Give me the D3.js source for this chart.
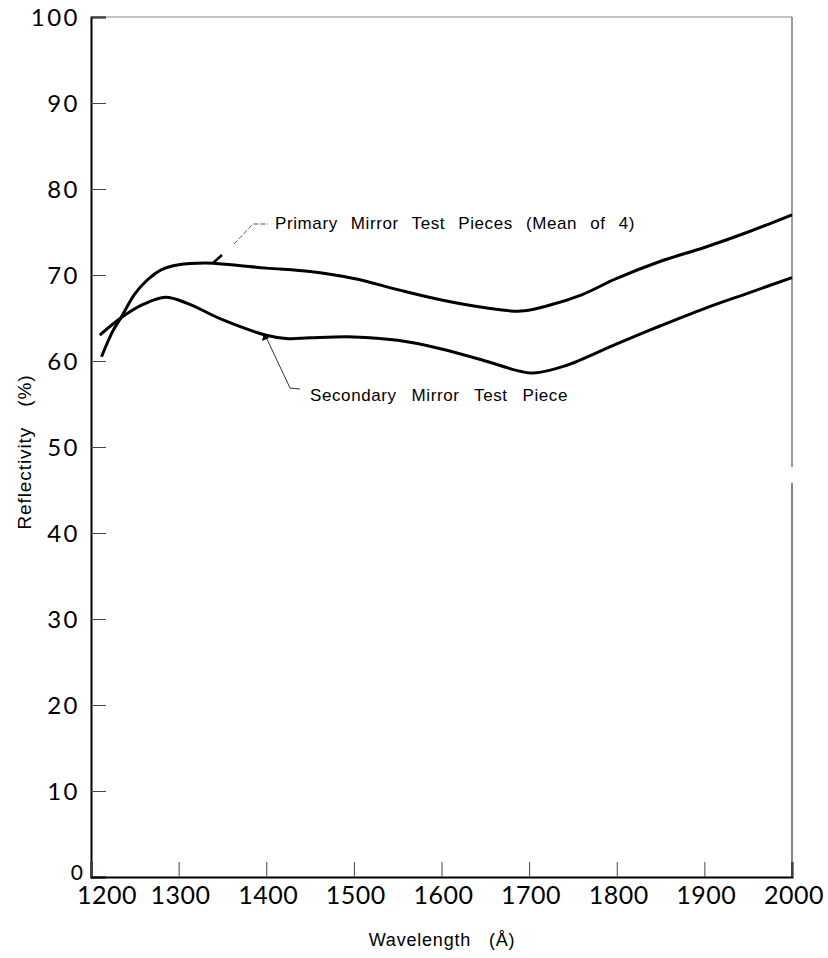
<!DOCTYPE html>
<html>
<head>
<meta charset="utf-8">
<script src="https://cdn.jsdelivr.net/npm/d3@7"></script>
<style>
  body { margin: 0; background: #fff; }
  svg { display: block; }
</style>
</head>
<body>
<svg width="828" height="958"></svg>
<script>
// wavelength (Angstrom) / reflectivity (%)
var primaryWl  = [1212, 1225, 1234, 1250, 1263, 1280, 1300, 1330, 1360, 1400, 1450, 1500, 1550, 1600, 1650, 1690, 1720, 1760, 1800, 1850, 1900, 1950, 2000];
var primaryR   = [60.5, 63.5, 65.0, 67.8, 69.3, 70.6, 71.2, 71.4, 71.2, 70.8, 70.4, 69.6, 68.3, 67.1, 66.2, 65.8, 66.4, 67.7, 69.6, 71.6, 73.2, 75.0, 77.0];
var secondaryWl = [1210, 1234, 1260, 1285, 1310, 1350, 1400, 1425, 1450, 1500, 1550, 1600, 1650, 1690, 1705, 1740, 1800, 1850, 1900, 1950, 2000];
var secondaryR  = [63.0, 65.0, 66.6, 67.4, 66.7, 64.8, 63.0, 62.6, 62.7, 62.8, 62.4, 61.4, 60.0, 58.8, 58.6, 59.4, 62.0, 64.1, 66.1, 67.9, 69.7];
var xTicks = [1200, 1300, 1400, 1500, 1600, 1700, 1800, 1900, 2000];
var yTicks = [0, 10, 20, 30, 40, 50, 60, 70, 80, 90, 100];

var svg = d3.select("svg");
var x = d3.scaleLinear().domain([1200, 2000]).range([91, 792]);
var y = d3.scaleLinear().domain([0, 100]).range([877, 17]);

// frame: top and right (right one has a small gap like the print)
svg.append("line").attr("x1", 91).attr("x2", 792).attr("y1", 17).attr("y2", 17)
  .attr("stroke", "#888").attr("stroke-width", 1.2);
svg.append("line").attr("x1", 792).attr("x2", 792).attr("y1", 17).attr("y2", 467)
  .attr("stroke", "#666").attr("stroke-width", 1.3);
svg.append("line").attr("x1", 792).attr("x2", 792).attr("y1", 483).attr("y2", 877)
  .attr("stroke", "#444").attr("stroke-width", 1.3);

// y axis, ticks pointing inward
var yAxis = d3.axisRight(y).tickValues(yTicks).tickSize(15).tickFormat("");
var yg = svg.append("g").attr("transform", "translate(91,0)").call(yAxis);
yg.select(".domain").attr("stroke", "#000").attr("stroke-width", 2);
yg.selectAll(".tick line").attr("stroke", "#444").attr("stroke-width", 1);

svg.append("g").selectAll("text")
  .data(yTicks.filter(function(d){ return d > 0; }))
  .enter().append("text")
  .attr("x", 80)
  .attr("y", function(d){ return y(d) + 8.5; })
  .attr("text-anchor", "end")
  .style("font-family", "Lato, sans-serif")
  .style("font-size", "24px")
  .style("letter-spacing", "2.5px")
  .text(function(d){ return d; });
svg.append("text").attr("x", 83).attr("y", 880).attr("text-anchor", "end")
  .style("font-family", "Lato, sans-serif").style("font-size", "21px").text("0");

// x axis, ticks pointing up
var xAxis = d3.axisTop(x).tickValues(xTicks).tickSize(15).tickFormat("");
var xg = svg.append("g").attr("transform", "translate(0,877)").call(xAxis);
xg.select(".domain").attr("stroke", "#000").attr("stroke-width", 2);
xg.selectAll(".tick line").attr("stroke", "#444").attr("stroke-width", 1);

svg.append("g").selectAll("text")
  .data(xTicks)
  .enter().append("text")
  .attr("x", function(d){ return d === 1200 ? x(d) + 16 : x(d) + 2; })
  .attr("y", 904)
  .attr("text-anchor", "middle")
  .style("font-family", "Lato, sans-serif")
  .style("font-size", "25px")
  .style("letter-spacing", "0.5px")
  .text(function(d){ return d; });

// axis titles
svg.append("text")
  .attr("transform", "translate(31,452) rotate(-90)")
  .attr("text-anchor", "middle")
  .style("font-family", "Liberation Sans, Arial, sans-serif")
  .style("font-size", "19px")
  .style("letter-spacing", "0.9px")
  .style("word-spacing", "14px")
  .text("Reflectivity (%)");
svg.append("text")
  .attr("x", 442).attr("y", 946)
  .attr("text-anchor", "middle")
  .style("font-family", "Liberation Sans, Arial, sans-serif")
  .style("font-size", "18px")
  .style("letter-spacing", "0.8px")
  .style("word-spacing", "12px")
  .text("Wavelength (Å)");

// curves
var line = d3.line()
  .x(function(d){ return x(d[0]); })
  .y(function(d){ return y(d[1]); })
  .curve(d3.curveCatmullRom.alpha(0.5));

var primary = primaryWl.map(function(w, i){ return [w, primaryR[i]]; });
var secondary = secondaryWl.map(function(w, i){ return [w, secondaryR[i]]; });

[primary, secondary].forEach(function(s){
  svg.append("path").datum(s)
    .attr("d", line)
    .attr("fill", "none")
    .attr("stroke", "#000")
    .attr("stroke-width", 3);
});

// fit a label to a width by widening the word gaps
function label(tx, ty, width, str) {
  var t = svg.append("text")
    .attr("x", tx).attr("y", ty)
    .style("font-family", "Liberation Sans, Arial, sans-serif")
    .style("font-size", "17px")
    .style("letter-spacing", "0.6px")
    .text(str);
  var gaps = str.split(" ").length - 1;
  var extra = (width - t.node().getComputedTextLength()) / gaps;
  t.style("word-spacing", Math.max(0, extra) + "px");
}

// annotations
svg.append("path")
  .attr("d", "M213,263 L222,255")
  .attr("stroke", "#000").attr("stroke-width", 2.5).attr("fill", "none");
svg.append("path")
  .attr("d", "M234,244 L253,224 L268,224")
  .attr("stroke", "#555").attr("stroke-width", 1).attr("fill", "none")
  .attr("stroke-dasharray", "5,2");
label(275, 229, 360, "Primary Mirror Test Pieces (Mean of 4)");

svg.append("path")
  .attr("d", "M266,337 L290,388 L300,389")
  .attr("stroke", "#333").attr("stroke-width", 1).attr("fill", "none");
svg.append("path")
  .attr("d", "M264,333 L262,341 L269,338 Z")
  .attr("fill", "#000");
label(310, 401, 258, "Secondary Mirror Test Piece");
</script>
</body>
</html>
